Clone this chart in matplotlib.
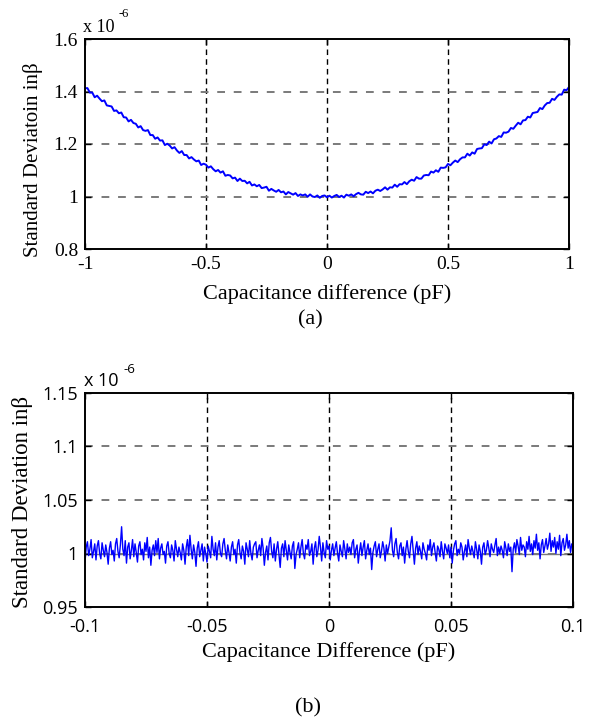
import numpy as np
import matplotlib
matplotlib.use('Agg')
import matplotlib.pyplot as plt

# ----- data -----

# (a) std deviation vs capacitance difference, -1 .. 1 pF
cap_a = np.round(np.arange(-100, 101) * 0.01, 2)
std_a = [
    1.412, 1.413, 1.396, 1.396, 1.378, 1.384, 1.373, 1.363, 1.366, 1.347,
    1.345, 1.343, 1.326, 1.328, 1.317, 1.320, 1.302, 1.301, 1.286, 1.292,
    1.280, 1.277, 1.263, 1.268, 1.253, 1.250, 1.253, 1.234, 1.234, 1.220,
    1.225, 1.213, 1.214, 1.196, 1.201, 1.194, 1.183, 1.188, 1.175, 1.166,
    1.173, 1.158, 1.158, 1.145, 1.150, 1.141, 1.134, 1.137, 1.120, 1.125,
    1.121, 1.110, 1.115, 1.104, 1.096, 1.101, 1.091, 1.096, 1.079, 1.082,
    1.080, 1.069, 1.072, 1.059, 1.068, 1.059, 1.060, 1.050, 1.056, 1.042,
    1.046, 1.039, 1.044, 1.032, 1.034, 1.037, 1.022, 1.029, 1.023, 1.018,
    1.025, 1.016, 1.019, 1.008, 1.017, 1.012, 1.007, 1.013, 1.002, 1.008,
    1.004, 1.008, 0.999, 1.008, 1.000, 0.998, 1.004, 0.995, 1.002, 1.004,
    0.997,
    1.003, 0.996, 1.002, 1.006, 0.998, 1.003, 0.996, 1.007, 1.003, 1.008,
    1.001, 1.009, 1.014, 1.008, 1.007, 1.018, 1.013, 1.019, 1.012, 1.022,
    1.026, 1.021, 1.027, 1.035, 1.026, 1.035, 1.034, 1.045, 1.037, 1.047,
    1.046, 1.055, 1.047, 1.058, 1.064, 1.060, 1.074, 1.068, 1.068, 1.080,
    1.082, 1.081, 1.095, 1.091, 1.100, 1.094, 1.110, 1.109, 1.111, 1.124,
    1.119, 1.129, 1.137, 1.131, 1.142, 1.149, 1.149, 1.163, 1.156, 1.168,
    1.163, 1.181, 1.183, 1.184, 1.199, 1.196, 1.209, 1.202, 1.218, 1.221,
    1.230, 1.227, 1.244, 1.243, 1.247, 1.261, 1.258, 1.270, 1.281, 1.275,
    1.290, 1.291, 1.304, 1.301, 1.318, 1.320, 1.322, 1.337, 1.333, 1.347,
    1.356, 1.357, 1.372, 1.368, 1.380, 1.389, 1.388, 1.407, 1.405, 1.417,
]

# (b) std deviation vs capacitance difference, -0.1 .. 0.1 pF
cap_b = np.round(np.arange(-200, 201) * 0.0005, 4)
std_b = [
    0.992, 1.006, 1.011, 0.998, 1.004, 1.013, 0.996, 1.002, 1.009, 0.994, 1.007, 1.012, 1.000, 0.995, 1.010, 1.003, 0.997, 1.008, 1.001, 0.990,
    1.005, 1.011, 0.999, 1.003, 0.993, 1.009, 1.014, 1.002, 0.996, 1.008, 1.025, 1.004, 0.998, 1.012, 0.991, 1.006, 1.010, 0.995, 1.003, 1.013,
    0.997, 1.009, 1.001, 0.992, 1.007, 1.011, 0.999, 1.004, 0.994, 1.010, 1.002, 1.015, 0.996, 1.006, 0.989, 1.003, 1.008, 0.998, 1.012, 1.001,
    1.014, 0.995, 1.005, 1.009, 0.999, 1.002, 0.991, 1.007, 1.011, 1.000, 0.996, 1.008, 1.003, 0.993, 1.012, 1.004, 0.997, 1.006, 1.001, 0.994,
    1.009, 1.003, 0.990, 1.006, 1.013, 0.998, 1.017, 1.004, 0.995, 1.008, 1.001, 0.988, 1.005, 1.011, 0.997, 1.003, 1.009, 0.993, 1.006, 1.000,
    0.992, 1.007, 1.002, 0.996, 1.016, 1.004, 0.998, 1.010, 0.994, 1.006, 1.012, 1.000, 0.997, 1.009, 1.014, 1.003, 0.995, 1.008, 1.001, 0.993,
    1.006, 1.011, 0.999, 1.004, 0.991, 1.008, 1.013, 1.001, 0.995, 1.007, 1.002, 0.990, 1.010, 1.004, 0.997, 1.012, 1.000, 0.994, 1.006, 1.009,
    1.011, 0.996, 1.003, 1.008, 0.998, 1.014, 1.005, 0.989, 1.001, 1.007, 0.994, 1.010, 1.015, 1.002, 0.996, 1.009, 0.993, 1.004, 1.011, 0.999,
    0.987, 1.005, 1.009, 0.997, 1.012, 1.003, 0.994, 1.008, 1.001, 0.995, 1.007, 1.011, 0.986, 0.999, 1.004, 1.010, 0.996, 1.006, 1.013, 1.000,
    0.995, 1.008, 1.004, 1.013, 0.998, 1.002, 1.009, 0.990, 1.005, 1.011, 0.997, 1.003, 1.016, 1.006, 0.993, 1.010, 1.001, 0.996, 1.012, 1.004,
    1.007, 0.994, 1.003, 1.009, 0.998, 1.005, 1.011, 1.000, 0.993, 1.008, 1.002, 0.997, 1.012, 1.004, 0.995, 1.009, 1.001, 1.006, 0.999, 1.010,
    1.013, 0.996, 1.004, 1.008, 0.991, 1.002, 1.010, 0.998, 1.006, 1.012, 0.995, 1.003, 1.009, 0.999, 1.005, 0.985, 1.001, 1.007, 1.011, 0.997,
    1.004, 1.009, 0.996, 1.002, 1.011, 1.005, 0.993, 1.008, 1.000, 1.006, 1.012, 1.024, 1.003, 0.997, 1.009, 1.014, 1.001, 0.995, 1.007, 1.010,
    0.998, 1.006, 0.991, 1.004, 1.012, 1.002, 0.996, 1.009, 1.016, 1.003, 0.990, 1.005, 1.011, 0.999, 1.007, 1.002, 0.995, 1.010, 1.004, 1.000,
    0.994, 1.008, 1.003, 1.013, 0.998, 1.006, 1.010, 1.001, 0.993, 1.007, 1.004, 0.997, 1.011, 1.002, 0.995, 1.009, 1.005, 1.000, 1.008, 0.996,
    1.006, 0.991, 1.003, 1.009, 1.012, 0.998, 1.004, 1.000, 1.010, 1.006, 0.994, 1.002, 1.008, 0.997, 1.013, 1.005, 0.999, 1.007, 1.002, 0.996,
    1.011, 1.004, 0.995, 1.008, 1.002, 0.990, 1.006, 1.010, 0.999, 1.003, 1.012, 1.005, 0.997, 1.009, 1.004, 1.001, 1.008, 1.014, 0.998, 1.006,
    1.000, 1.007, 1.003, 0.996, 1.011, 1.005, 0.998, 1.009, 1.002, 1.006, 0.983, 1.004, 1.010, 1.001, 1.013, 1.007, 0.999, 1.015, 1.003, 1.008,
    1.006, 0.997, 1.011, 1.004, 1.016, 1.002, 1.009, 0.999, 1.012, 1.005, 1.018, 1.003, 1.010, 0.995, 1.008, 1.013, 1.001, 1.007, 1.014, 1.004,
    1.009, 1.019, 1.002, 1.012, 1.006, 1.015, 1.000, 1.011, 1.004, 1.017, 0.998, 1.010, 1.014, 1.003, 1.008, 1.018, 1.005, 1.012, 1.001, 1.009,
    1.006,
]

xticks_a = [-1, -0.5, 0, 0.5, 1]
xtick_labels_a = ['-1', '-0.5', '0', '0.5', '1']
yticks_a = [0.8, 1.0, 1.2, 1.4, 1.6]
ytick_labels_a = ['0.8', '1', '1.2', '1.4', '1.6']

xticks_b = [-0.1, -0.05, 0, 0.05, 0.1]
xtick_labels_b = ['-0.1', '-0.05', '0', '0.05', '0.1']
yticks_b = [0.95, 1.0, 1.05, 1.1, 1.15]
ytick_labels_b = ['0.95', '1', '1.05', '1.1', '1.15']

# ----- plotting -----

serif = 'Liberation Serif'
sans = 'Open Sans'

fig = plt.figure(figsize=(5.9, 7.2), dpi=100)
W, H = 590, 720

def px_axes(l, t, r, b):
    return fig.add_axes([l / W, 1 - b / H, (r - l) / W, (b - t) / H])

def style_axes(ax, xticks, xlabels, yticks, ylabels, tickfont, ticksize, xpad):
    ax.set_xticks(xticks)
    ax.set_xticklabels(xlabels, family=tickfont, fontsize=ticksize)
    ax.set_yticks(yticks)
    ax.set_yticklabels(ylabels, family=tickfont, fontsize=ticksize)
    ax.tick_params(direction='in', length=4, width=1, top=True, right=True, pad=5)
    ax.tick_params(axis='x', pad=xpad)
    for sp in ax.spines.values():
        sp.set_linewidth(1.4)
    # MATLAB style dashed grid
    for xv in xticks[1:-1]:
        ax.axvline(xv, color='black', lw=1.0, ls=(0, (4, 3)), zorder=0)
    for yv in yticks[1:-1]:
        ax.axhline(yv, color='#7a7a7a', lw=1.4, ls=(0, (4, 4.5)), zorder=0)

# (a)
ax_a = px_axes(85, 39, 569, 249)
ax_a.plot(cap_a, std_a, color='#0000ff', lw=1.4, zorder=2)
ax_a.set_xlim(-1, 1)
ax_a.set_ylim(0.8, 1.6)
style_axes(ax_a, xticks_a, xtick_labels_a, yticks_a, ytick_labels_a, serif, 14, 5)
ax_a.set_xlabel('Capacitance difference (pF)', family=serif, fontsize=16, labelpad=8)
fig.text(33 / W, 1 - 160 / H, 'Standard Deviatoin inβ', family=serif, fontsize=15,
         rotation=90, ha='center', va='center')
fig.text(83 / W, 1 - 27 / H, 'x 10', family=serif, fontsize=13, ha='left', va='center')
fig.text(119 / W, 1 - 14 / H, '-6', family=serif, fontsize=9, ha='left', va='center')
fig.text(310 / W, 1 - 320 / H, '(a)', family=serif, fontsize=16, ha='center', va='center')

# (b)
ax_b = px_axes(85, 393, 573, 607)
ax_b.plot(cap_b, std_b, color='#0000ff', lw=1.0, zorder=2)
ax_b.set_xlim(-0.1, 0.1)
ax_b.set_ylim(0.95, 1.15)
style_axes(ax_b, xticks_b, xtick_labels_b, yticks_b, ytick_labels_b, sans, 13, 8)
ax_b.axhline(1.0, color='#7a7a7a', lw=1.0, zorder=1)
ax_b.set_xlabel('Capacitance Difference (pF)', family=serif, fontsize=16, labelpad=4)
fig.text(23 / W, 1 - 502 / H, 'Standard Deviation inβ', family=serif, fontsize=16.5,
         rotation=90, ha='center', va='center')
fig.text(84 / W, 1 - 381 / H, 'x 10', family=sans, fontsize=13, ha='left', va='center')
fig.text(123 / W, 1 - 370 / H, '-6', family=sans, fontsize=9.5, ha='left', va='center')
fig.text(308 / W, 1 - 708 / H, '(b)', family=serif, fontsize=16, ha='center', va='center')

fig.savefig('out.png', dpi=100)
